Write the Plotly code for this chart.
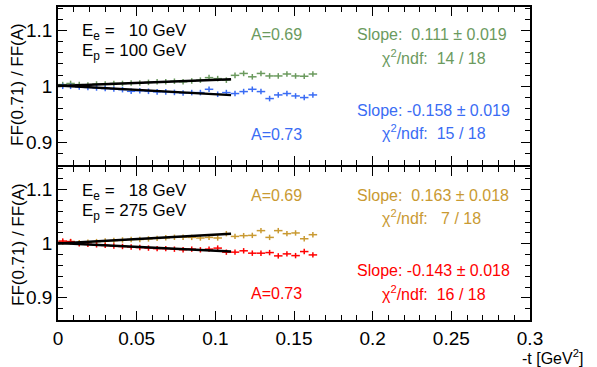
import plotly.graph_objects as go

W, H = 597, 367

# ---------------- data ----------------
t_vals = [0.003, 0.008, 0.0135, 0.019, 0.0245, 0.030, 0.0355, 0.041, 0.0465, 0.052,
          0.0575, 0.063, 0.0685, 0.074, 0.0795, 0.085, 0.0905, 0.096, 0.1015, 0.107,
          0.1125, 0.118, 0.1235, 0.129, 0.1345, 0.140, 0.1455, 0.151, 0.1565, 0.162]
t_halfwidth = 0.0027

top_green = [1.003, 1.005, 1.003, 1.002, 1.004, 1.004, 1.005, 1.005, 1.006, 1.006,
             1.007, 1.008, 1.008, 1.009, 1.008, 1.0095, 1.011, 1.0155, 1.0137, 1.011,
             1.0196, 1.023, 1.017, 1.023, 1.0185, 1.0185, 1.022, 1.0185, 1.018, 1.022]
top_blue = [1.000, 1.000, 0.999, 0.998, 0.997, 0.996, 0.995, 0.994, 0.991, 0.992,
            0.991, 0.990, 0.990, 0.989, 0.988, 0.9887, 0.9887, 0.9946, 0.9857, 0.9887,
            0.987, 0.9905, 0.9946, 0.9905, 0.978, 0.9845, 0.987, 0.9827, 0.9798, 0.9845]
bot_orange = [1.003, 1.004, 1.002, 1.003, 1.004, 1.005, 1.006, 1.007, 1.008, 1.008,
              1.009, 1.010, 1.011, 1.012, 1.012, 1.0118, 1.0107, 1.0118, 1.0107, 1.0187,
              1.0136, 1.015, 1.0155, 1.0243, 1.0118, 1.0243, 1.0187, 1.020, 1.0093, 1.0168]
bot_red = [1.005, 1.004, 1.000, 0.999, 0.998, 0.997, 0.996, 0.995, 0.994, 0.993,
           0.992, 0.991, 0.991, 0.990, 0.989, 0.9901, 0.9888, 0.9901, 0.992, 0.9845,
           0.9845, 0.987, 0.9826, 0.9826, 0.9837, 0.9776, 0.9813, 0.9781, 0.9856, 0.9794]
y_err = 0.005

fit_range = [0.0, 0.11]
slopes = {"green": 0.111, "blue": -0.158, "orange": 0.163, "red": -0.143}
intercepts = {"green": 1.0005, "blue": 1.0015, "orange": 1.0005, "red": 1.0015}

C_GREEN = "#6b9a5e"
C_BLUE = "#3a6cf4"
C_ORANGE = "#c99a32"
C_RED = "#ff0000"

FONT = "Liberation Sans, Arial, sans-serif"

fig = go.Figure()


def add_series(xs, ys, color, ax):
    fig.add_trace(go.Scatter(
        x=xs, y=ys, mode="markers",
        marker=dict(size=1, color=color, opacity=0),
        error_x=dict(type="constant", value=t_halfwidth, color=color, thickness=1.5, width=0),
        error_y=dict(type="constant", value=y_err, color=color, thickness=1.5, width=0),
        xaxis="x" if ax == 1 else "x2", yaxis="y" if ax == 1 else "y2",
        showlegend=False, hoverinfo="skip"))


def add_fit(key, ax):
    xs = fit_range
    ys = [intercepts[key] + slopes[key] * v for v in xs]
    fig.add_trace(go.Scatter(
        x=xs, y=ys, mode="lines", line=dict(color="black", width=2.4),
        xaxis="x" if ax == 1 else "x2", yaxis="y" if ax == 1 else "y2",
        showlegend=False, hoverinfo="skip"))


add_series(t_vals, top_green, C_GREEN, 1)
add_series(t_vals, top_blue, C_BLUE, 1)
add_fit("green", 1)
add_fit("blue", 1)
add_series(t_vals, bot_orange, C_ORANGE, 2)
add_series(t_vals, bot_red, C_RED, 2)
add_fit("orange", 2)
add_fit("red", 2)


def px(x):
    return x / W


def py(y):
    return 1 - y / H


x_dom = [px(58), px(530)]
top_dom = [py(165), py(7)]
bot_dom = [py(320), py(167)]

axis_common = dict(
    showgrid=False, zeroline=False, showline=True, linecolor="black", linewidth=1.5,
    mirror="ticks", ticks="inside", tickcolor="black", tickwidth=1.2, automargin=False,
    tickfont=dict(family=FONT, size=19, color="black"),
)

yr = [0.859, 1.142]
fig.update_layout(
    width=W, height=H, autosize=False,
    margin=dict(l=0, r=0, t=0, b=0, pad=0, autoexpand=False),
    showlegend=False,
    paper_bgcolor="white", plot_bgcolor="white",
    xaxis=dict(domain=x_dom, range=[0, 0.3], anchor="y", dtick=0.05, ticklen=9,
               showticklabels=False, matches="x2",
               minor=dict(dtick=0.01, ticks="inside", ticklen=5, tickcolor="black"),
               **axis_common),
    yaxis=dict(domain=top_dom, range=yr, anchor="x", tickvals=[0.9, 1.0, 1.1],
               ticktext=["0.9", "1", "1.1"], ticklen=9,
               minor=dict(dtick=0.02, ticks="inside", ticklen=5, tickcolor="black"),
               **axis_common),
    xaxis2=dict(domain=x_dom, range=[0, 0.3], anchor="y2", dtick=0.05, ticklen=9,
                tickvals=[0, 0.05, 0.1, 0.15, 0.2, 0.25, 0.3],
                ticktext=["0", "0.05", "0.1", "0.15", "0.2", "0.25", "0.3"],
                minor=dict(dtick=0.01, ticks="inside", ticklen=5, tickcolor="black"),
                **axis_common),
    yaxis2=dict(domain=bot_dom, range=yr, anchor="x2", tickvals=[0.9, 1.0, 1.1],
                ticktext=["0.9", "1", "1.1"], ticklen=9,
                minor=dict(dtick=0.02, ticks="inside", ticklen=5, tickcolor="black"),
                **axis_common),
)


def note(text, x, y, color="black", size=16, xanchor="left", angle=0):
    fig.add_annotation(text=text, x=px(x), y=py(y), xref="paper", yref="paper",
                       xanchor=xanchor, yanchor="middle", showarrow=False,
                       textangle=angle, borderpad=0,
                       font=dict(family=FONT, size=size, color=color))


# top panel texts
note("E<sub>e</sub> =   10 GeV", 81, 32, size=17)
note("E<sub>p</sub> = 100 GeV", 81, 52, size=17)
note("A=0.69", 250, 35, C_GREEN)
note("Slope:  0.111 ± 0.019", 356, 35, C_GREEN)
note("χ<sup>2</sup>/ndf:  14 / 18", 381, 57, C_GREEN)
note("Slope: -0.158 ± 0.019", 356, 110, C_BLUE)
note("χ<sup>2</sup>/ndf:  15 / 18", 381, 132, C_BLUE)
note("A=0.73", 250, 134, C_BLUE)

# bottom panel texts
note("E<sub>e</sub> =   18 GeV", 81, 192, size=17)
note("E<sub>p</sub> = 275 GeV", 81, 212, size=17)
note("A=0.69", 250, 195, C_ORANGE)
note("Slope:  0.163 ± 0.018", 356, 195, C_ORANGE)
note("χ<sup>2</sup>/ndf:   7 / 18", 381, 217, C_ORANGE)
note("Slope: -0.143 ± 0.018", 356, 270, C_RED)
note("χ<sup>2</sup>/ndf:  16 / 18", 381, 293, C_RED)
note("A=0.73", 250, 293, C_RED)

# axis titles
note("FF(0.71) / FF(A)", 18, 85, size=17, xanchor="center", angle=-90)
note("FF(0.71) / FF(A)", 18, 245, size=17, xanchor="center", angle=-90)
note("-t [GeV<sup>2</sup>]", 584, 357, size=16, xanchor="right")

fig.write_html("out.html")
